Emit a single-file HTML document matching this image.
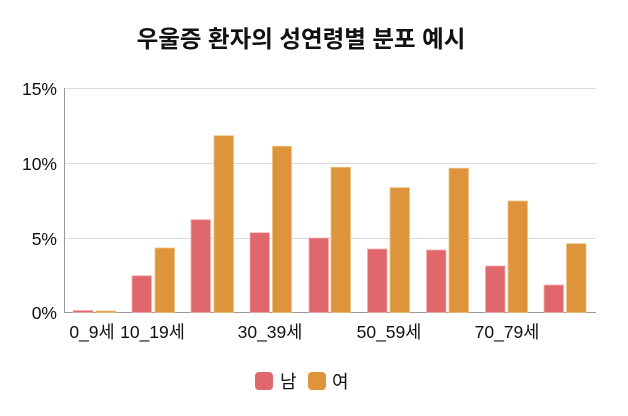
<!DOCTYPE html>
<html><head><meta charset="utf-8"><style>
body{margin:0;background:#fff;}
svg text{font-family:"Liberation Sans","Noto Sans CJK KR",sans-serif;fill:#111;}
</style></head><body>
<svg width="628" height="411" xmlns="http://www.w3.org/2000/svg">
<text x="301" y="47" font-size="23.5" font-weight="bold" text-anchor="middle">우울증 환자의 성연령별 분포 예시</text>
<g stroke="#dcdcdc" stroke-width="1">
<line x1="65" y1="88.5" x2="596" y2="88.5"/>
<line x1="65" y1="163.5" x2="596" y2="163.5"/>
<line x1="65" y1="238.5" x2="596" y2="238.5"/>
</g>
<line x1="64.5" y1="88" x2="64.5" y2="313" stroke="#999"/>
<line x1="64" y1="312.5" x2="596" y2="312.5" stroke="#999"/>
<g font-size="17.5" text-anchor="end">
<text x="57" y="95">15%</text><text x="57" y="170">10%</text><text x="57" y="245">5%</text><text x="57" y="319">0%</text>
</g>
<g fill="#e0686c" stroke="#f3b0b0" stroke-width="0.8">
<rect x="73" y="310.5" width="20" height="2"/>
<rect x="132" y="275.7" width="19.5" height="36.8"/>
<rect x="191" y="219.7" width="19.5" height="92.8"/>
<rect x="250" y="232.7" width="19.5" height="79.8"/>
<rect x="309" y="238" width="19.5" height="74.5"/>
<rect x="367.5" y="249" width="19.5" height="63.5"/>
<rect x="426.5" y="250" width="19.5" height="62.5"/>
<rect x="485.5" y="266" width="19.5" height="46.5"/>
<rect x="544" y="285" width="19.5" height="27.5"/>
</g>
<g fill="#dd943b" stroke="#f0c080" stroke-width="0.8">
<rect x="96" y="311" width="19.5" height="1.5"/>
<rect x="155" y="248" width="19.5" height="64.5"/>
<rect x="214" y="135.7" width="19.5" height="176.8"/>
<rect x="272.5" y="146.3" width="19" height="166.2"/>
<rect x="331" y="167.3" width="19.5" height="145.2"/>
<rect x="390" y="187.7" width="19.5" height="124.8"/>
<rect x="449" y="168.3" width="19.5" height="144.2"/>
<rect x="508" y="201" width="19.5" height="111.5"/>
<rect x="566.5" y="243.7" width="19.5" height="68.8"/>
</g>
<g font-size="17.5" text-anchor="middle">
<text x="92" y="338">0_9세</text>
<text x="152.5" y="338">10_19세</text>
<text x="270" y="338">30_39세</text>
<text x="389" y="338">50_59세</text>
<text x="507" y="338">70_79세</text>
</g>
<rect x="255" y="372" width="18" height="18" rx="4" fill="#e0686c"/>
<text x="280" y="388" font-size="18">남</text>
<rect x="308" y="372" width="18" height="18" rx="4" fill="#dd943b"/>
<text x="332" y="388" font-size="18">여</text>
</svg>
</body></html>
